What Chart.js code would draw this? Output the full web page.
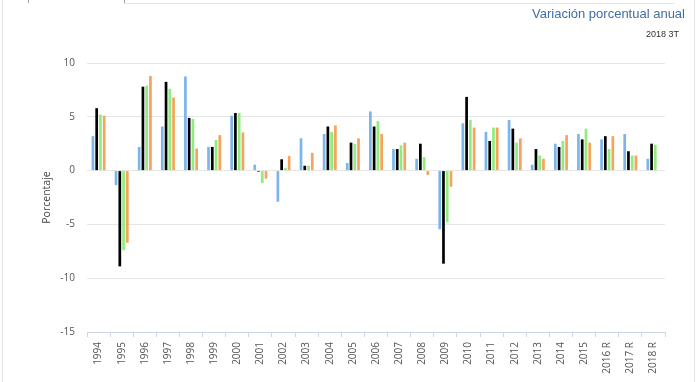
<!DOCTYPE html>
<html>
<head>
<meta charset="utf-8">
<script src="https://cdn.jsdelivr.net/npm/chart.js@4"></script>
<style>
  html, body { margin: 0; padding: 0; background: #fff; }
  #wrap { position: relative; width: 700px; height: 382px; overflow: hidden; }
  #chart { position: absolute; left: 0; top: 0; }
  .line { position: absolute; background: #e3e3e3; }
  .title { position: absolute; right: 15px; white-space: nowrap; font-family: "Liberation Sans", Arial, sans-serif; }
</style>
</head>
<body>
<div id="wrap">
  <canvas id="chart" width="700" height="382"></canvas>
  <div class="line" style="left:2px;top:0;width:1px;height:382px;"></div>
  <div class="line" style="left:694px;top:0;width:1px;height:382px;"></div>
  <div class="line" style="left:28px;top:0;width:1px;height:3px;background:#9aa8a8;"></div>
  <div class="line" style="left:124px;top:0;width:1px;height:4px;background:#9aa8a8;"></div>
  <div class="line" style="left:124px;top:3px;width:550px;height:1px;"></div>
  <div class="title" style="top:7px;font-size:13px;line-height:14px;color:#3f6ea3;">Variación porcentual anual</div>
  <div class="title" style="top:29px;right:21px;font-size:9px;line-height:10px;color:#333;">2018 3T</div>
</div>
<script>
const categories = ["1994","1995","1996","1997","1998","1999","2000","2001","2002","2003","2004","2005","2006","2007","2008","2009","2010","2011","2012","2013","2014","2015","2016 R","2017 R","2018 R"];
const seriesBlue   = [3.2,-1.35,2.2,4.1,8.75,2.2,5.1,0.55,-2.9,3.0,3.4,0.7,5.5,2.0,1.1,-5.45,4.4,3.6,4.7,0.55,2.5,3.4,2.9,3.4,1.1];
const seriesBlack  = [5.8,-8.9,7.8,8.25,4.9,2.2,5.35,-0.1,1.05,0.45,4.1,2.6,4.1,2.0,2.5,-8.65,6.85,2.75,3.9,2.0,2.2,2.9,3.2,1.8,2.5];
const seriesGreen  = [5.2,-7.4,7.9,7.6,4.8,2.85,5.35,-1.15,0.25,0.45,3.6,2.5,4.6,2.35,1.25,-4.8,4.7,4.0,2.6,1.4,2.75,3.9,2.0,1.4,2.4];
const seriesOrange = [5.1,-6.7,8.8,6.8,2.05,3.3,3.55,-0.75,1.35,1.65,4.2,3.0,3.4,2.6,-0.4,-1.5,4.0,4.0,3.0,1.1,3.3,2.6,3.2,1.4,null];
const yTicks = [-15,-10,-5,0,5,10];

const mk = (data, color) => ({ data, backgroundColor: color, borderWidth: 0, categoryPercentage: 0.65, barPercentage: 0.72 });

new Chart(document.getElementById('chart'), {
  type: 'bar',
  data: {
    labels: categories,
    datasets: [
      mk(seriesBlue, '#7cb5ec'),
      mk(seriesBlack, '#000000'),
      mk(seriesGreen, '#90ed7d'),
      mk(seriesOrange, '#f7a35c')
    ]
  },
  options: {
    responsive: false,
    animation: false,
    devicePixelRatio: 1,
    layout: { padding: { left: 36, right: 35, top: 63, bottom: 0 } },
    plugins: { legend: { display: false }, tooltip: { enabled: false }, title: { display: false } },
    scales: {
      x: {
        grid: { display: true, drawOnChartArea: false, tickLength: 5, color: '#ccd6eb' },
        border: { display: true, color: '#ccd6eb' },
        ticks: {
          minRotation: 90, maxRotation: 90, autoSkip: false, padding: 5,
          color: '#555', font: { family: '"Open Sans", sans-serif', size: 10 }
        },
        afterFit: s => { s.height = 50; }
      },
      y: {
        min: -15, max: 10,
        afterBuildTicks: s => { s.ticks = yTicks.map(v => ({ value: v })); },
        grid: { color: '#e6e6e6', drawTicks: false },
        border: { display: false },
        ticks: { padding: 12, color: '#555', font: { family: '"Open Sans", sans-serif', size: 10 } },
        title: { display: true, text: 'Porcentaje', color: '#444', padding: { top: 5, bottom: 0 }, font: { family: '"Open Sans", sans-serif', size: 10.5 } },
        afterFit: s => { s.width = 51; }
      }
    }
  }
});
</script>
</body>
</html>
